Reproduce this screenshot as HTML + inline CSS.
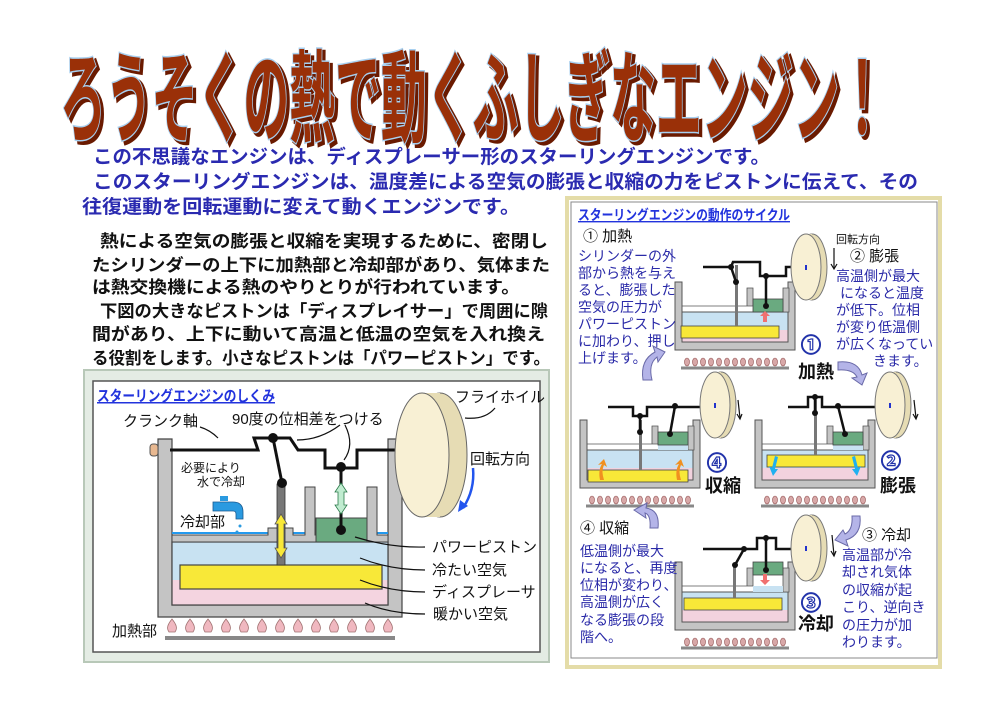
<!DOCTYPE html>
<html><head><meta charset="utf-8"><style>
html,body{margin:0;padding:0;background:#fff;}
svg{display:block;font-family:"Liberation Sans","Noto Sans CJK JP",sans-serif;}
</style></head><body>
<svg width="1000" height="720" viewBox="0 0 1000 720" xmlns="http://www.w3.org/2000/svg">
<defs>
<g id="eng">
  <path d="M0 0 H7 V60 H113 V0 H120 V68 H0 Z" fill="#c4c4c4" stroke="#555" stroke-width="1"/>
  <rect x="7" y="30" width="106" height="30" fill="#f2d2de"/>
  <rect x="7" y="30" width="106" height="18" fill="#c8e2f2"/>
  <rect x="7" y="30" width="106" height="30" fill="none" stroke="#555" stroke-width="1"/>
  <path d="M7 24 H72 V6 H78 V24 H7 Z" fill="#c4c4c4" stroke="#555" stroke-width="0.8"/>
  <path d="M108 6 H114 V30 H108 Z" fill="#c4c4c4" stroke="#555" stroke-width="0.8"/>
  <rect x="78" y="24" width="30" height="6" fill="#c8e2f2"/>
  <line x1="6" y1="86" x2="114" y2="86" stroke="#888" stroke-width="3"/>
  <g fill="#d8a8a8" stroke="#905050" stroke-width="0.6">
    <ellipse cx="12" cy="80" rx="2.5" ry="4"/><ellipse cx="20" cy="80" rx="2.5" ry="4"/><ellipse cx="28" cy="80" rx="2.5" ry="4"/><ellipse cx="36" cy="80" rx="2.5" ry="4"/><ellipse cx="44" cy="80" rx="2.5" ry="4"/><ellipse cx="52" cy="80" rx="2.5" ry="4"/><ellipse cx="60" cy="80" rx="2.5" ry="4"/><ellipse cx="68" cy="80" rx="2.5" ry="4"/><ellipse cx="76" cy="80" rx="2.5" ry="4"/><ellipse cx="84" cy="80" rx="2.5" ry="4"/><ellipse cx="92" cy="80" rx="2.5" ry="4"/><ellipse cx="100" cy="80" rx="2.5" ry="4"/><ellipse cx="108" cy="80" rx="2.5" ry="4"/>
  </g>
</g>
<g id="fw">
  <ellipse cx="6" cy="0" rx="15" ry="33" fill="#e6dcb4" stroke="#777"/>
  <rect x="0" y="-33" width="6" height="66" fill="#e6dcb4"/>
  <ellipse cx="0" cy="0" rx="15" ry="33" fill="#f8f0d4" stroke="#777"/>
  <rect x="-1" y="-2" width="2" height="5" fill="#2233cc"/>
</g>
<g id="flm">
  <path d="M0 -9 C4 -4 6 0 3 4 H-3 C-6 0 -4 -4 0 -9 Z" fill="#f0b8c0" stroke="#a07070" stroke-width="0.8"/>
</g>
</defs>

<!-- Title -->
<g font-weight="bold" font-size="100">
<text x="63" y="137" textLength="825" lengthAdjust="spacingAndGlyphs" fill="#6a1a00" stroke="#6a1a00" stroke-width="4">ろうそくの熱で動くふしぎなエンジン！</text>
<text x="60" y="134" textLength="825" lengthAdjust="spacingAndGlyphs" fill="#9a3008" stroke="#a8d0f0" stroke-width="3" paint-order="stroke">ろうそくの熱で動くふしぎなエンジン！</text>
</g>

<!-- Intro blue -->
<g fill="#2a2ab0" font-size="19" font-weight="bold">
<text x="93" y="163" textLength="677" lengthAdjust="spacingAndGlyphs">この不思議なエンジンは、ディスプレーサー形のスターリングエンジンです。</text>
<text x="93" y="188" textLength="825" lengthAdjust="spacingAndGlyphs">このスターリングエンジンは、温度差による空気の膨張と収縮の力をピストンに伝えて、その</text>
<text x="82" y="213" textLength="438" lengthAdjust="spacingAndGlyphs">往復運動を回転運動に変えて動くエンジンです。</text>
</g>
<g fill="#111" font-size="17" font-weight="bold">
<text x="100" y="247" textLength="448" lengthAdjust="spacingAndGlyphs">熱による空気の膨張と収縮を実現するために、密閉し</text>
<text x="92" y="271" textLength="458" lengthAdjust="spacingAndGlyphs">たシリンダーの上下に加熱部と冷却部があり、気体また</text>
<text x="92" y="293" textLength="428" lengthAdjust="spacingAndGlyphs">は熱交換機による熱のやりとりが行われています。</text>
<text x="100" y="317" textLength="448" lengthAdjust="spacingAndGlyphs">下図の大きなピストンは「ディスプレイサー」で周囲に隙</text>
<text x="92" y="340" textLength="453" lengthAdjust="spacingAndGlyphs">間があり、上下に動いて高温と低温の空気を入れ換え</text>
<text x="92" y="364" textLength="458" lengthAdjust="spacingAndGlyphs">る役割をします。小さなピストンは「パワーピストン」です。</text>
</g>

<!-- Left diagram -->
<rect x="84" y="370" width="465" height="292" fill="#e4ece4" stroke="#b8c8b8" stroke-width="2"/>
<rect x="93" y="381" width="447" height="271" fill="#fff" stroke="#555" stroke-width="1.5"/>
<text x="97" y="401" font-size="15" font-weight="bold" fill="#2233dd" text-decoration="underline" textLength="178" lengthAdjust="spacingAndGlyphs">スターリングエンジンのしくみ</text>
<path d="M158 439 H172 V605 H388 V439 H402 V617 H158 Z" fill="#c4c4c4" stroke="#444" stroke-width="1.2"/>
<rect x="172" y="542" width="216" height="63" fill="#f4d4e0"/>
<rect x="172" y="542" width="216" height="38" fill="#c8e2f2"/>
<rect x="172" y="542" width="216" height="63" fill="none" stroke="#444" stroke-width="1.2"/>
<rect x="180" y="565" width="202" height="24" fill="#f8e838" stroke="#444" stroke-width="1.2"/>
<line x1="172" y1="533" x2="388" y2="533" stroke="#2299ee" stroke-width="2"/>
<path d="M172 535 H268 V528 H293 V535 H305 V487 H315 V535 H316 V542 H172 Z" fill="#c4c4c4" stroke="#444" stroke-width="1"/>
<path d="M367 487 H377 V535 H388 V542 H367 Z" fill="#c4c4c4" stroke="#444" stroke-width="1"/>
<rect x="316" y="518" width="51" height="24" fill="#6aaa80" stroke="#444"/>
<rect x="277" y="484" width="8" height="81" fill="#777" stroke="#333" stroke-width="0.8"/>
<rect x="150" y="444" width="8" height="12" rx="3" fill="#e8b890" stroke="#555"/>
<rect x="402" y="444" width="8" height="12" rx="3" fill="#e8b890" stroke="#555"/>
<polyline points="170,450 258,450 254,438 290,438 298,450 325,450 325,468 357,468 357,450 420,450" fill="none" stroke="#111" stroke-width="3"/>
<line x1="273" y1="438" x2="282" y2="483" stroke="#111" stroke-width="3"/>
<line x1="341" y1="467" x2="341" y2="530" stroke="#111" stroke-width="3"/>
<g fill="#111"><circle cx="273" cy="438" r="5"/><circle cx="282" cy="483" r="5"/><circle cx="341" cy="467" r="5"/><circle cx="341" cy="530" r="5"/></g>
<path d="M281 514 L287 524 H284 V548 H287 L281 558 L275 548 H278 V524 H275 Z" fill="#f8e838" stroke="#555" stroke-width="0.8"/>
<path d="M341 483 L347 492 H344 V505 H347 L341 514 L335 505 H338 V492 H335 Z" fill="#c0ecd0" stroke="#2a7a4a" stroke-width="0.8"/>
<ellipse cx="440" cy="455" rx="27" ry="62" fill="#e6dcb4" stroke="#666"/>
<rect x="422" y="393" width="18" height="124" fill="#e6dcb4"/>
<ellipse cx="422" cy="455" rx="27" ry="62" fill="#f8f0d4" stroke="#666"/>
<!-- faucet -->
<rect x="220" y="496" width="8" height="5" fill="#2a9ae0"/>
<path d="M213 502 h20 q10 0 10 10 v7 h-7 v-5 q0 -3 -3 -3 h-20 z" fill="#2a9ae0" stroke="#1a5a90" stroke-width="0.8"/>
<circle cx="240" cy="526" r="1.5" fill="#2a9ae0"/><circle cx="237" cy="532" r="1.5" fill="#2a9ae0"/>
<line x1="165" y1="638" x2="395" y2="638" stroke="#888" stroke-width="4"/>
<use href="#flm" x="172" y="628"/><use href="#flm" x="190" y="628"/><use href="#flm" x="208" y="628"/><use href="#flm" x="226" y="628"/><use href="#flm" x="244" y="628"/><use href="#flm" x="262" y="628"/><use href="#flm" x="280" y="628"/><use href="#flm" x="298" y="628"/><use href="#flm" x="316" y="628"/><use href="#flm" x="334" y="628"/><use href="#flm" x="352" y="628"/><use href="#flm" x="370" y="628"/><use href="#flm" x="388" y="628"/>
<g fill="none" stroke="#111" stroke-width="1.2">
<path d="M200 427 Q210 430 218 438"/>
<path d="M340 425 Q320 440 297 440"/>
<path d="M345 425 Q355 445 344 460"/>
<path d="M495 408 Q485 420 465 418"/>
<path d="M425 547 Q390 548 355 537"/>
<path d="M425 570 Q390 570 360 558"/>
<path d="M425 592 Q390 592 360 580"/>
<path d="M425 614 Q390 614 365 603"/>
</g>
<path d="M473 468 Q475 490 463 508" fill="none" stroke="#2255ee" stroke-width="2.5"/>
<path d="M458 512 L460 500 L468 506 Z" fill="#2255ee"/>
<g font-size="15" fill="#111">
<text x="455" y="402">フライホイル</text>
<text x="232" y="424">90度の位相差をつける</text>
<text x="123" y="426">クランク軸</text>
<text x="181" y="472" font-size="12">必要により</text>
<text x="197" y="486" font-size="12">水で冷却</text>
<text x="180" y="527">冷却部</text>
<text x="470" y="464">回転方向</text>
<text x="432" y="552">パワーピストン</text>
<text x="432" y="575">冷たい空気</text>
<text x="432" y="597">ディスプレーサ</text>
<text x="433" y="619">暖かい空気</text>
<text x="112" y="636">加熱部</text>
</g>

<!-- Right panel -->
<rect x="567" y="198" width="373" height="469" fill="#fff" stroke="#e4dca8" stroke-width="4"/>
<rect x="571" y="202" width="366" height="456" fill="#fff" stroke="#888" stroke-width="1"/>
<text x="578" y="220" font-size="14" font-weight="bold" fill="#2233dd" text-decoration="underline" textLength="212" lengthAdjust="spacingAndGlyphs">スターリングエンジンの動作のサイクル</text>

<use href="#eng" x="675" y="282"/>
<rect x="753" y="299" width="30" height="13" fill="#6aaa80" stroke="#444" stroke-width="0.8"/>
<rect x="681" y="326" width="98" height="12" fill="#f8e838" stroke="#444" stroke-width="0.8"/>
<rect x="735" y="265" width="3" height="61" fill="#777"/>
<polyline points="703,267 731,267 733,262 760,262 760,276 786,276 786,267 810,267" fill="none" stroke="#111" stroke-width="2.5"/>
<line x1="731" y1="267" x2="736" y2="282" stroke="#111" stroke-width="2.5"/>
<line x1="766" y1="276" x2="766" y2="306" stroke="#111" stroke-width="2.5"/>
<circle cx="731" cy="267" r="3" fill="#111"/><circle cx="736" cy="282" r="3" fill="#111"/><circle cx="766" cy="276" r="3" fill="#111"/><circle cx="766" cy="306" r="3" fill="#111"/>
<path d="M765 311 l5 5 h-3 v6 h-4 v-6 h-3z" fill="#f07070"/>
<use href="#fw" x="806" y="267"/>

<use href="#eng" x="580" y="420"/>
<rect x="658" y="432" width="30" height="13" fill="#6aaa80" stroke="#444" stroke-width="0.8"/>
<rect x="588" y="470" width="100" height="12" fill="#f8e838" stroke="#444" stroke-width="0.8"/>
<rect x="639" y="420" width="3" height="50" fill="#777"/>
<polyline points="608,407 633,407 633,416 647,416 647,407 715,407" fill="none" stroke="#111" stroke-width="2.5"/>
<line x1="640" y1="416" x2="640" y2="432" stroke="#111" stroke-width="2.5"/>
<line x1="675" y1="406" x2="670" y2="434" stroke="#111" stroke-width="2.5"/>
<circle cx="640" cy="416" r="3" fill="#111"/><circle cx="640" cy="432" r="3" fill="#111"/><circle cx="675" cy="406" r="3" fill="#111"/><circle cx="670" cy="434" r="3" fill="#111"/>
<path d="M600 480 q-2 -10 2 -16 l-4 1 6 -6 3 8 -3 -2 q-3 6 0 15z" fill="#f09020"/>
<path d="M677 480 q-2 -10 2 -16 l-4 1 6 -6 3 8 -3 -2 q-3 6 0 15z" fill="#f09020"/>
<use href="#fw" x="715" y="405"/>

<use href="#eng" x="755" y="420"/>
<rect x="833" y="432" width="30" height="13" fill="#6aaa80" stroke="#444" stroke-width="0.8"/>
<rect x="767" y="455" width="98" height="12" fill="#f8e838" stroke="#444" stroke-width="0.8"/>
<rect x="814" y="400" width="3" height="55" fill="#777"/>
<polyline points="788,407 808,407 808,397 822,397 822,407 890,407" fill="none" stroke="#111" stroke-width="2.5"/>
<line x1="815" y1="397" x2="815" y2="413" stroke="#111" stroke-width="2.5"/>
<line x1="838" y1="406" x2="845" y2="434" stroke="#111" stroke-width="2.5"/>
<circle cx="815" cy="397" r="3" fill="#111"/><circle cx="815" cy="413" r="3" fill="#111"/><circle cx="838" cy="406" r="3" fill="#111"/><circle cx="845" cy="434" r="3" fill="#111"/>
<path d="M775 456 l-3 12 -3 -2 4 10 5 -7 -3 0 3 -12z" fill="#20b0f0"/>
<path d="M855 456 l3 12 3 -2 -4 10 -5 -7 3 0 -3 -12z" fill="#20b0f0"/>
<use href="#fw" x="890" y="405"/>

<use href="#eng" x="675" y="562"/>
<rect x="753" y="562" width="30" height="13" fill="#6aaa80" stroke="#444" stroke-width="0.8"/>
<rect x="684" y="598" width="98" height="12" fill="#f8e838" stroke="#444" stroke-width="0.8"/>
<rect x="733" y="565" width="3" height="33" fill="#777"/>
<polyline points="703,549 757,549 757,538 776,538 776,549 808,549" fill="none" stroke="#111" stroke-width="2.5"/>
<line x1="744" y1="549" x2="735" y2="565" stroke="#111" stroke-width="2.5"/>
<line x1="766" y1="538" x2="766" y2="570" stroke="#111" stroke-width="2.5"/>
<circle cx="744" cy="549" r="3" fill="#111"/><circle cx="735" cy="565" r="3" fill="#111"/><circle cx="766" cy="538" r="3" fill="#111"/><circle cx="766" cy="570" r="3" fill="#111"/>
<path d="M765 585 l5 -5 h-3 v-6 h-4 v6 h-3z" fill="#f07070"/>
<use href="#fw" x="806" y="548"/>

<g stroke="#111" stroke-width="1.2" fill="none">
<line x1="834" y1="248" x2="834" y2="268"/><path d="M831 264 l3 5 3 -5"/>
<line x1="738" y1="400" x2="740" y2="418"/><path d="M737 414 l3 5 2 -5"/>
<line x1="914" y1="400" x2="916" y2="418"/><path d="M913 414 l3 5 2 -5"/>
<line x1="832" y1="535" x2="834" y2="555"/><path d="M831 551 l3 5 2 -5"/>
</g>

<g fill="#b4b4e8" stroke="#6a6aa8" stroke-width="1">
<path d="M643 380 Q640 360 655 352 L653 346 L665 352 L658 362 L657 357 Q648 364 652 380 Z"/>
<path d="M838 362 Q858 360 862 375 L867 373 L862 385 L852 378 L857 377 Q853 369 838 370 Z"/>
<path d="M860 516 Q862 535 846 540 L848 546 L835 540 L843 530 L845 534 Q853 530 852 516 Z"/>
<path d="M658 528 Q660 510 646 508 L647 503 L634 510 L646 518 L645 513 Q651 515 650 528 Z"/>
</g>

<g font-size="15" fill="#111">
<text x="583" y="241">① 加熱</text>
<text x="836" y="243" font-size="11">回転方向</text>
<text x="850" y="261">② 膨張</text>
<text x="580" y="533">④ 収縮</text>
<text x="862" y="540">③ 冷却</text>
</g>
<g font-size="18" fill="#111" font-weight="bold">
<text x="798" y="378">加熱</text>
<text x="705" y="492">収縮</text>
<text x="880" y="492">膨張</text>
<text x="798" y="630">冷却</text>
</g>
<g font-size="20" font-weight="bold" fill="#fff" stroke="#2233aa" stroke-width="1.2">
<text x="801" y="352">①</text>
<text x="707" y="470">④</text>
<text x="881" y="468">②</text>
<text x="801" y="610">③</text>
</g>
<g font-size="14" fill="#2a2aa8">
<text x="578" y="261">シリンダーの外</text>
<text x="578" y="278">部から熱を与え</text>
<text x="578" y="295">ると、膨張した</text>
<text x="578" y="312">空気の圧力が</text>
<text x="578" y="329">パワーピストン</text>
<text x="578" y="346">に加わり、押し</text>
<text x="578" y="363">上げます。</text>

<text x="836" y="281">高温側が最大</text>
<text x="840" y="298">になると温度</text>
<text x="836" y="315">が低下。位相</text>
<text x="836" y="332">が変り低温側</text>
<text x="836" y="349">が広くなってい</text>
<text x="873" y="366">きます。</text>

<text x="580" y="556">低温側が最大</text>
<text x="580" y="573">になると、再度</text>
<text x="580" y="590">位相が変わり、</text>
<text x="580" y="607">高温側が広く</text>
<text x="580" y="625">なる膨張の段</text>
<text x="580" y="642">階へ。</text>

<text x="842" y="560">高温部が冷</text>
<text x="842" y="577">却され気体</text>
<text x="842" y="595">の収縮が起</text>
<text x="842" y="612">こり、逆向き</text>
<text x="842" y="630">の圧力が加</text>
<text x="842" y="647">わります。</text>
</g>
</svg>
</body></html>
